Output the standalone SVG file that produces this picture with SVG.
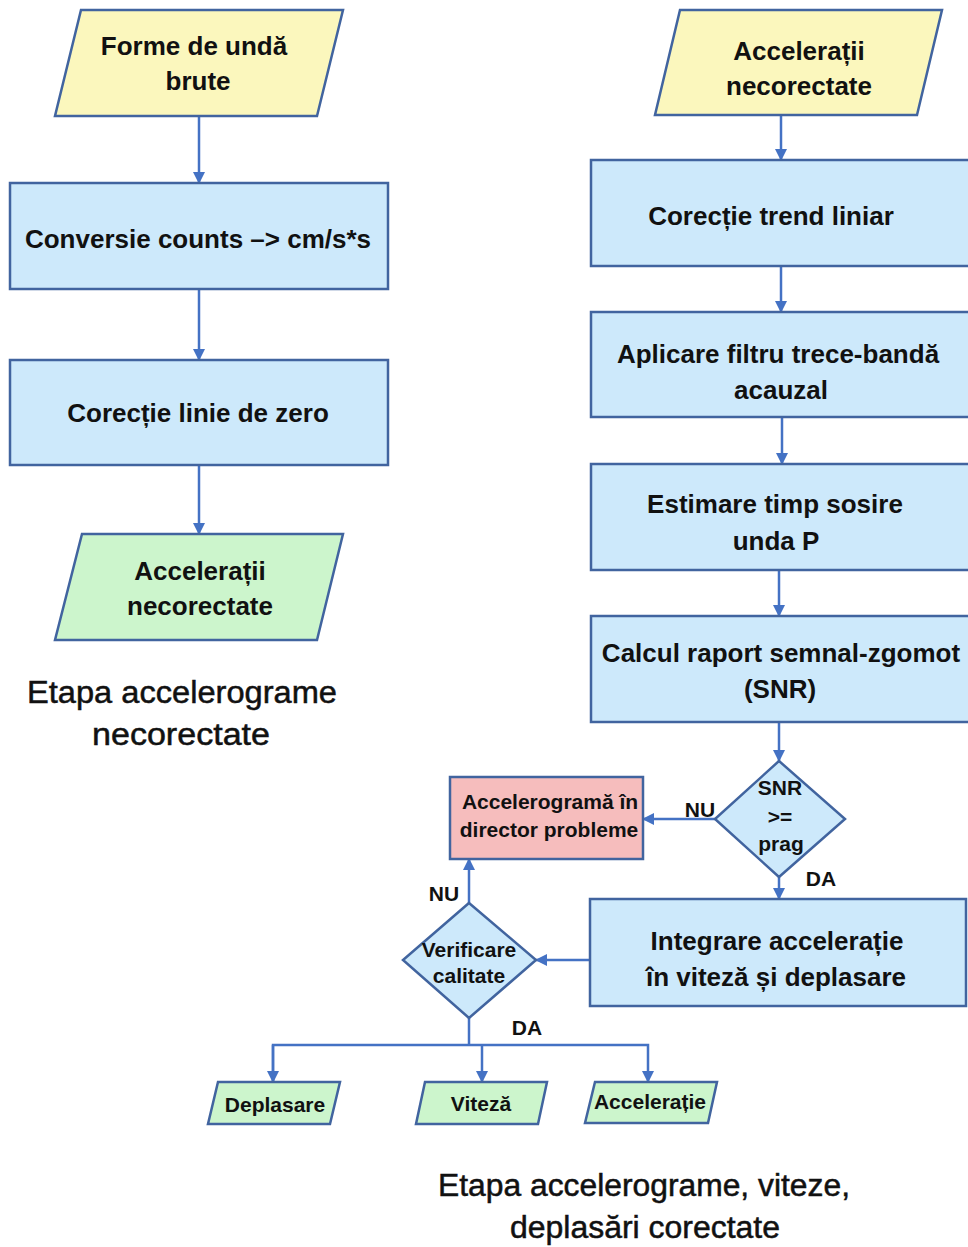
<svg xmlns="http://www.w3.org/2000/svg" width="968" height="1247" viewBox="0 0 968 1247">
<defs>
<marker id="ah" markerUnits="userSpaceOnUse" markerWidth="12" markerHeight="12" viewBox="0 0 12 12" refX="11" refY="6" orient="auto">
<path d="M0,0 L12,6 L0,12 Z" fill="#4472C4"/>
</marker>
<style>
.shape{stroke:#41649F;stroke-width:2.5;stroke-linejoin:miter}
.yel{fill:#FBF7BD}
.blu{fill:#CDE9FB}
.grn{fill:#CCF5CC}
.red{fill:#F6BDBD}
.t{font-family:"Liberation Sans",Arial,sans-serif;font-weight:bold;font-size:26px;fill:#111;text-anchor:middle}
.s{font-family:"Liberation Sans",Arial,sans-serif;font-weight:bold;font-size:21px;fill:#111;text-anchor:middle}
.cap{font-family:"Liberation Sans",Arial,sans-serif;font-size:31px;fill:#111;stroke:#111;stroke-width:0.5;text-anchor:middle}
.con{fill:none;stroke:#4472C4;stroke-width:2.5}
</style>
</defs>
<rect width="968" height="1247" fill="#ffffff"/>

<g id="connectors">
<path class="con" d="M199,116 V183" marker-end="url(#ah)"/>
<path class="con" d="M199,289 V360" marker-end="url(#ah)"/>
<path class="con" d="M199,465 V534" marker-end="url(#ah)"/>
<path class="con" d="M781,115 V160" marker-end="url(#ah)"/>
<path class="con" d="M781,266 V312" marker-end="url(#ah)"/>
<path class="con" d="M782,417 V464" marker-end="url(#ah)"/>
<path class="con" d="M779,570 V616" marker-end="url(#ah)"/>
<path class="con" d="M779,722 V761" marker-end="url(#ah)"/>
<path class="con" d="M715,819 H643" marker-end="url(#ah)"/>
<path class="con" d="M779,877 V899" marker-end="url(#ah)"/>
<path class="con" d="M590,960 H536" marker-end="url(#ah)"/>
<path class="con" d="M469,903 V859" marker-end="url(#ah)"/>
<path class="con" d="M469,1018 V1045"/>
<path class="con" d="M273,1082 V1045 H648 V1082" marker-end="url(#ah)"/>
<path class="con" d="M273,1045 V1082" marker-end="url(#ah)"/>
<path class="con" d="M482,1045 V1082" marker-end="url(#ah)"/>
<text class="s" x="700" y="817">NU</text>
<text class="s" x="821" y="886">DA</text>
<text class="s" x="444" y="901">NU</text>
<text class="s" x="527" y="1035">DA</text>
</g>

<g id="n_forme">
<polygon class="shape yel" points="81,10 343,10 317,116 55,116"/>
<text class="t" x="194" y="55">Forme de undă</text>
<text class="t" x="198" y="90">brute</text>
</g>

<g id="n_conversie">
<rect class="shape blu" x="10" y="183" width="378" height="106"/>
<text class="t" x="198" y="248">Conversie counts –&gt; cm/s*s</text>
</g>

<g id="n_corectie_zero">
<rect class="shape blu" x="10" y="360" width="378" height="105"/>
<text class="t" x="198" y="422">Corecție linie de zero</text>
</g>

<g id="n_acc_out">
<polygon class="shape grn" points="82,534 343,534 317,640 55,640"/>
<text class="t" x="200" y="580">Accelerații</text>
<text class="t" x="200" y="615">necorectate</text>
</g>

<g id="caption_left">
<text class="cap" x="182" y="703" textLength="310" lengthAdjust="spacingAndGlyphs">Etapa accelerograme</text>
<text class="cap" x="181" y="745" textLength="178" lengthAdjust="spacingAndGlyphs">necorectate</text>
</g>

<g id="n_acc_in">
<polygon class="shape yel" points="680,10 942,10 917,115 655,115"/>
<text class="t" x="799" y="60">Accelerații</text>
<text class="t" x="799" y="95">necorectate</text>
</g>

<g id="n_trend">
<rect class="shape blu" x="591" y="160" width="382" height="106"/>
<text class="t" x="771" y="225">Corecție trend liniar</text>
</g>

<g id="n_filtru">
<rect class="shape blu" x="591" y="312" width="382" height="105"/>
<text class="t" x="778" y="363">Aplicare filtru trece-bandă</text>
<text class="t" x="781" y="399">acauzal</text>
</g>

<g id="n_estimare">
<rect class="shape blu" x="591" y="464" width="382" height="106"/>
<text class="t" x="775" y="513">Estimare timp sosire</text>
<text class="t" x="776" y="550">unda P</text>
</g>

<g id="n_snr_calc">
<rect class="shape blu" x="591" y="616" width="382" height="106"/>
<text class="t" x="781" y="662">Calcul raport semnal-zgomot</text>
<text class="t" x="780" y="698">(SNR)</text>
</g>

<g id="n_snr_dec">
<polygon class="shape blu" points="779,761 845,819 779,877 715,819"/>
<text class="s" x="780" y="795">SNR</text>
<text class="s" x="780" y="824">&gt;=</text>
<text class="s" x="781" y="851">prag</text>
</g>

<g id="n_probleme">
<rect class="shape red" x="450" y="777" width="193" height="82"/>
<text class="s" x="550" y="809">Accelerogramă în</text>
<text class="s" x="549" y="837">director probleme</text>
</g>

<g id="n_integrare">
<rect class="shape blu" x="590" y="899" width="376" height="107"/>
<text class="t" x="777" y="950">Integrare accelerație</text>
<text class="t" x="776" y="986">în viteză și deplasare</text>
</g>

<g id="n_verificare">
<polygon class="shape blu" points="469,903 536,960 469,1018 403,960"/>
<text class="s" x="469" y="957">Verificare</text>
<text class="s" x="469" y="983">calitate</text>
</g>

<g id="n_deplasare">
<polygon class="shape grn" points="218,1082 340,1082 330,1124 208,1124"/>
<text class="s" x="275" y="1112">Deplasare</text>
</g>

<g id="n_viteza">
<polygon class="shape grn" points="425,1082 547,1082 538,1124 416,1124"/>
<text class="s" x="481" y="1111">Viteză</text>
</g>

<g id="n_acceleratie">
<polygon class="shape grn" points="595,1082 717,1082 708,1123 585,1123"/>
<text class="s" x="650" y="1109">Accelerație</text>
</g>

<g id="caption_right">
<text class="cap" x="644" y="1196" textLength="412" lengthAdjust="spacingAndGlyphs">Etapa accelerograme, viteze,</text>
<text class="cap" x="645" y="1238" textLength="270" lengthAdjust="spacingAndGlyphs">deplasări corectate</text>
</g>
</svg>
